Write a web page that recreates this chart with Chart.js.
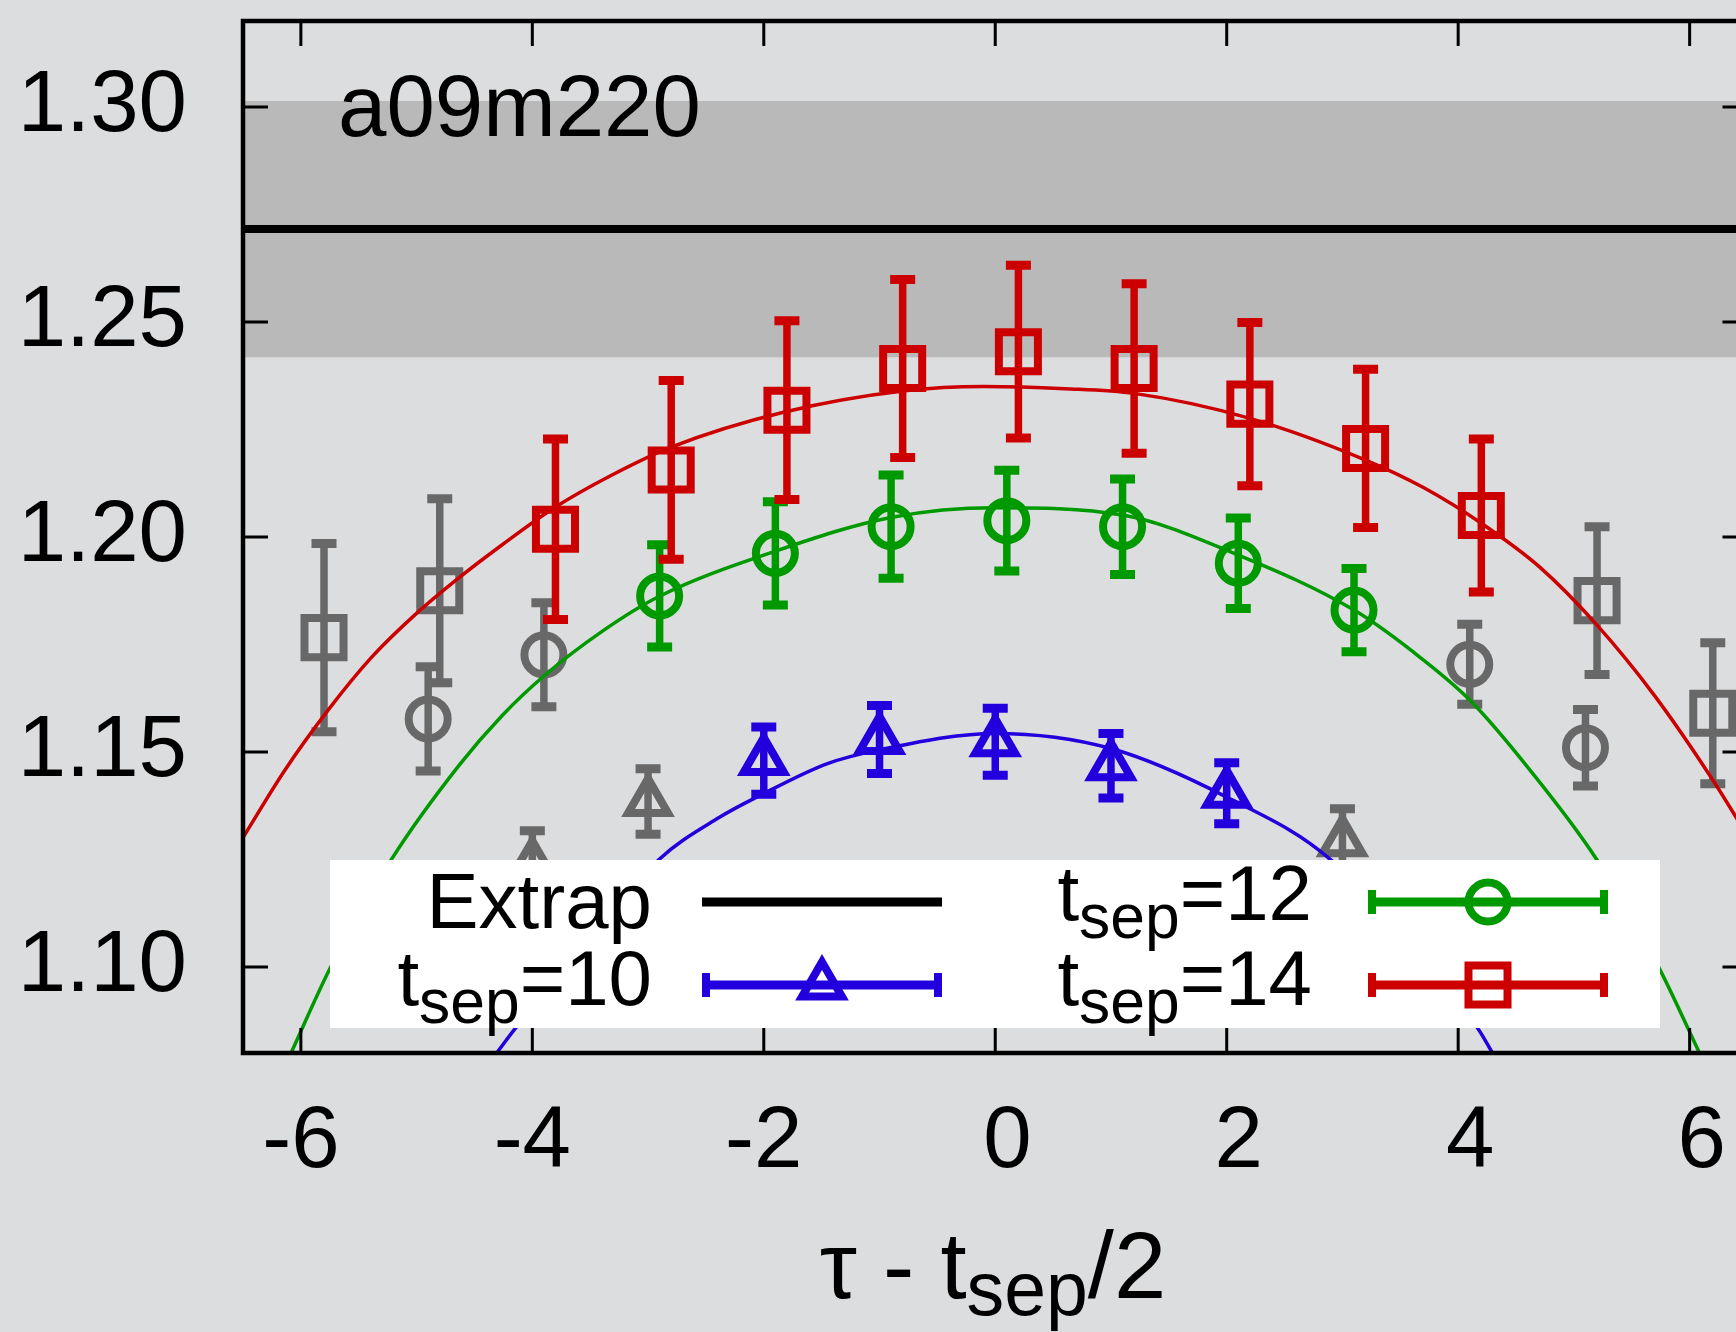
<!DOCTYPE html>
<html>
<head>
<meta charset="utf-8">
<script src="https://cdn.jsdelivr.net/npm/chart.js@4.4.1/dist/chart.umd.min.js"></script>
<style>
    html, body { margin: 0; padding: 0; background: #dcdddf; overflow: hidden; }
    #chart { display: block; }
</style>
</head>
<body>
<canvas id="chart" width="1760" height="1332" style="width:1760px;height:1332px"></canvas>
<script>
// ---- data ----
const xTicks = [-6, -4, -2, 0, 2, 4, 6];
const yTicks = [1.10, 1.15, 1.20, 1.25, 1.30];

// extrapolated value with its error band
const extrapValue = 1.2716;
const extrapError = 0.0298;

// t_sep = 10, points used in the fit
const ts10X = [-2, -1, 0, 1, 2];
const ts10Y = [1.1480, 1.1529, 1.1524, 1.1468, 1.1404];
const ts10Err = [0.0078, 0.0079, 0.0078, 0.0075, 0.0071];

// t_sep = 12, points used in the fit
const ts12X = [-2.9, -1.9, -0.9, 0.1, 1.1, 2.1, 3.1];
const ts12Y = [1.1863, 1.1962, 1.2024, 1.2038, 1.2024, 1.1939, 1.1830];
const ts12Err = [0.0119, 0.0120, 0.0120, 0.0117, 0.0111, 0.0105, 0.0097];

// t_sep = 14, points used in the fit
const ts14X = [-3.8, -2.8, -1.8, -0.8, 0.2, 1.2, 2.2, 3.2, 4.2];
const ts14Y = [1.2018, 1.2156, 1.2295, 1.2392, 1.2431, 1.2392, 1.2309, 1.2206, 1.2050];
const ts14Err = [0.0210, 0.0208, 0.0208, 0.0207, 0.0201, 0.0197, 0.0190, 0.0184, 0.0178];

// points left out of the fit (grey)
const ts10OutX = [-4, -3, 3];
const ts10OutY = [1.1240, 1.1385, 1.1291];
const ts10OutErr = [0.0077, 0.0076, 0.0077];

const ts12OutX = [-4.9, -3.9, 4.1, 5.1];
const ts12OutY = [1.1577, 1.1726, 1.1704, 1.1510];
const ts12OutErr = [0.0121, 0.0121, 0.0093, 0.0089];

const ts14OutX = [-5.8, -4.8, 5.2, 6.2];
const ts14OutY = [1.1766, 1.1875, 1.1852, 1.1590];
const ts14OutErr = [0.0219, 0.0214, 0.0172, 0.0164];

// fit curves
const fit10X = [-4.30, -4.15, -2.91, -2.39, -2.01, -1.45, -1.0, 0, 1.0, 2.0, 2.9, 4.17, 4.29];
const fit10Y = [1.0803, 1.0856, 1.1249, 1.1347, 1.1402, 1.1473, 1.1505, 1.1543, 1.1508, 1.1395, 1.1249, 1.0857, 1.0803];

const fit12X = [-6.08, -5.74, -5.22, -4.63, -4.26, -3.89, -3.40, -2.91, -1.90, -0.89, 0, 1.1, 2.1, 3.1, 3.6, 4.1, 4.6, 5.2, 5.73, 6.08];
const fit12Y = [1.0803, 1.1001, 1.1249, 1.1470, 1.1585, 1.1679, 1.1780, 1.1861, 1.1967, 1.2046, 1.2068, 1.2051, 1.1958, 1.1830, 1.1735, 1.1621, 1.1465, 1.1249, 1.1001, 1.0803];

const fit14X = [-6.5, -6.14, -5.76, -5.39, -5.01, -4.63, -4.26, -3.81, -3.32, -2.8, -1.83, -0.78, -0.1, 0.6, 1.2, 2.2, 3.2, 3.7, 4.2, 4.7, 5.2, 5.7, 6.2, 6.5];
const fit14Y = [1.1301, 1.1457, 1.1599, 1.1720, 1.1820, 1.1906, 1.1982, 1.2068, 1.2143, 1.2209, 1.2290, 1.2340, 1.2350, 1.2345, 1.2334, 1.2276, 1.2179, 1.2115, 1.2032, 1.1931, 1.1795, 1.1630, 1.1435, 1.1305];

// ---- styling ----
const FONT = "'Liberation Sans', Arial, Helvetica, sans-serif";
const RED = '#cc0000';
const GREEN = '#009900';
const BLUE = '#2200dd';
const GRAY = '#686868';
const BAND = '#b9b9b9';

const SQUARE_R = 27.6;
const CIRCLE_R = 19.5;
const TRIANGLE_R = 23;
const MARK_W = 8;

const pts = (xs, ys) => xs.map((x, i) => ({ x: x, y: ys[i] }));

function pointSet(xs, ys, errs, color, style, radius, order) {
    return {
        data: pts(xs, ys),
        err: errs,
        showLine: false,
        pointStyle: style,
        pointRadius: radius,
        pointHoverRadius: radius,
        pointBorderWidth: MARK_W,
        borderColor: color,
        pointBorderColor: color,
        pointBackgroundColor: 'rgba(0,0,0,0)',
        order: order
    };
}

function curve(xs, ys, color) {
    return {
        data: pts(xs, ys),
        showLine: true,
        borderColor: color,
        borderWidth: 3.5,
        pointRadius: 0,
        cubicInterpolationMode: 'monotone',
        fill: false,
        order: 0
    };
}

const bandHi = extrapValue + extrapError;
const bandLo = extrapValue - extrapError;

const datasets = [
    { data: pts([-6.5, 6.5], [bandHi, bandHi]), showLine: true, borderColor: 'rgba(0,0,0,0)', borderWidth: 0,
      pointRadius: 0, backgroundColor: BAND, fill: '+1', order: 20 },
    { data: pts([-6.5, 6.5], [bandLo, bandLo]), showLine: true, borderColor: 'rgba(0,0,0,0)', borderWidth: 0,
      pointRadius: 0, fill: false, order: 20 },
    { data: pts([-6.5, 6.5], [extrapValue, extrapValue]), showLine: true, borderColor: '#000', borderWidth: 8,
      pointRadius: 0, fill: false, order: 19 },
    pointSet(ts14OutX, ts14OutY, ts14OutErr, GRAY, 'rect', SQUARE_R, 10),
    pointSet(ts12OutX, ts12OutY, ts12OutErr, GRAY, 'circle', CIRCLE_R, 10),
    pointSet(ts10OutX, ts10OutY, ts10OutErr, GRAY, 'triangle', TRIANGLE_R, 10),
    pointSet(ts14X, ts14Y, ts14Err, RED, 'rect', SQUARE_R, 5),
    pointSet(ts12X, ts12Y, ts12Err, GREEN, 'circle', CIRCLE_R, 5),
    pointSet(ts10X, ts10Y, ts10Err, BLUE, 'triangle', TRIANGLE_R, 5),
    curve(fit14X, fit14Y, RED),
    curve(fit12X, fit12Y, GREEN),
    curve(fit10X, fit10Y, BLUE)
];

// vertical error bars, drawn just before each point set
const errorBars = {
    id: 'errorBars',
    beforeDatasetDraw(chart, args) {
        const ds = chart.data.datasets[args.index];
        if (!ds.err) return;
        const { ctx, chartArea: a, scales: { x, y } } = chart;
        ctx.save();
        ctx.beginPath();
        ctx.rect(a.left, a.top, a.right - a.left, a.bottom - a.top);
        ctx.clip();
        ctx.strokeStyle = ds.borderColor;
        ctx.lineCap = 'butt';
        ds.data.forEach((p, i) => {
            const px = x.getPixelForValue(p.x);
            const top = y.getPixelForValue(p.y + ds.err[i]);
            const bot = y.getPixelForValue(p.y - ds.err[i]);
            ctx.lineWidth = 7.5;
            ctx.beginPath();
            ctx.moveTo(px, top);
            ctx.lineTo(px, bot);
            ctx.stroke();
            ctx.lineWidth = 9;
            ctx.beginPath();
            ctx.moveTo(px - 12.5, top);
            ctx.lineTo(px + 12.5, top);
            ctx.moveTo(px - 12.5, bot);
            ctx.lineTo(px + 12.5, bot);
            ctx.stroke();
        });
        ctx.restore();
    }
};

function marker(ctx, style, x, y, color) {
    ctx.save();
    ctx.strokeStyle = color;
    ctx.lineWidth = MARK_W;
    ctx.beginPath();
    if (style === 'circle') {
        ctx.arc(x, y, CIRCLE_R, 0, Math.PI * 2);
    } else if (style === 'rect') {
        const h = SQUARE_R * Math.SQRT1_2;
        ctx.rect(x - h, y - h, 2 * h, 2 * h);
    } else {
        const r = TRIANGLE_R;
        ctx.moveTo(x, y - r);
        ctx.lineTo(x + r * Math.sqrt(3) / 2, y + r / 2);
        ctx.lineTo(x - r * Math.sqrt(3) / 2, y + r / 2);
        ctx.closePath();
    }
    ctx.stroke();
    ctx.restore();
}

// text with a "sep" style subscript: parts = [[text, isSub], ...]
function richText(ctx, parts, x, baseline, size, subDrop, align) {
    const sizes = parts.map(p => (p[1] ? size * 0.8 : size));
    const widths = parts.map((p, i) => {
        ctx.font = sizes[i] + 'px ' + FONT;
        return ctx.measureText(p[0]).width;
    });
    const total = widths.reduce((s, w) => s + w, 0);
    let cx = align === 'right' ? x - total : (align === 'center' ? x - total / 2 : x);
    parts.forEach((p, i) => {
        ctx.font = sizes[i] + 'px ' + FONT;
        ctx.fillText(p[0], cx, baseline + (p[1] ? subDrop : 0));
        cx += widths[i];
    });
}

const legendEntries = [
    { parts: [['Extrap', false]], col: 0, row: 0, color: '#000', style: null, base: 928 },
    { parts: [['t', false], ['sep', true], ['=10', false]], col: 0, row: 1, color: BLUE, style: 'triangle', base: 1005 },
    { parts: [['t', false], ['sep', true], ['=12', false]], col: 1, row: 0, color: GREEN, style: 'circle', base: 920 },
    { parts: [['t', false], ['sep', true], ['=14', false]], col: 1, row: 1, color: RED, style: 'rect', base: 1005 }
];

const decor = {
    id: 'decor',
    afterDraw(chart) {
        const { ctx, chartArea: a, scales: { x, y } } = chart;
        ctx.save();
        ctx.fillStyle = '#000';
        ctx.textBaseline = 'alphabetic';
        ctx.textAlign = 'left';

        // panel label
        ctx.font = '87px ' + FONT;
        ctx.fillText('a09m220', 338, 136);

        // ticks, all pointing inwards
        ctx.strokeStyle = '#000';
        ctx.lineWidth = 3;
        ctx.beginPath();
        xTicks.forEach(v => {
            const px = x.getPixelForValue(v);
            ctx.moveTo(px, a.top);
            ctx.lineTo(px, a.top + 25);
            ctx.moveTo(px, a.bottom);
            ctx.lineTo(px, a.bottom - 25);
        });
        yTicks.forEach(v => {
            const py = y.getPixelForValue(v);
            ctx.moveTo(a.left, py);
            ctx.lineTo(a.left + 25, py);
            ctx.moveTo(a.right, py);
            ctx.lineTo(a.right - 25, py);
        });
        ctx.stroke();

        // frame
        ctx.lineWidth = 4.5;
        ctx.strokeRect(a.left, a.top, a.right - a.left, a.bottom - a.top);

        // key box
        ctx.fillStyle = '#ffffff';
        ctx.fillRect(330, 860, 1330, 168);

        const textRight = [652, 1312];
        const sampleX0 = [702, 1368];
        const sampleX1 = [942, 1608];
        const sampleY = [902, 985];
        legendEntries.forEach(e => {
            ctx.fillStyle = '#000';
            richText(ctx, e.parts, textRight[e.col], e.base, 78, 18, 'right');
            const x0 = sampleX0[e.col], x1 = sampleX1[e.col], ly = sampleY[e.row];
            ctx.strokeStyle = e.color;
            ctx.lineWidth = 9;
            ctx.beginPath();
            ctx.moveTo(x0, ly);
            ctx.lineTo(x1, ly);
            ctx.stroke();
            if (e.style) {
                ctx.lineWidth = 8;
                ctx.beginPath();
                ctx.moveTo(x0 + 4, ly - 12);
                ctx.lineTo(x0 + 4, ly + 12);
                ctx.moveTo(x1 - 4, ly - 12);
                ctx.lineTo(x1 - 4, ly + 12);
                ctx.stroke();
                marker(ctx, e.style, (x0 + x1) / 2, ly, e.color);
            }
        });

        // x axis title
        ctx.fillStyle = '#000';
        richText(ctx, [['\u03c4 - t', false], ['sep', true], ['/2', false]], 993, 1298, 94, 17, 'center');
        ctx.restore();
    }
};

// drop the label overhang padding so the plot box sits where the reference has it
function noPad(s) {
    s.paddingTop = 0;
    s.paddingBottom = 0;
    s.paddingLeft = 0;
    s.paddingRight = 0;
}

const chart = new Chart(document.getElementById('chart'), {
    type: 'scatter',
    data: { datasets: datasets },
    options: {
        responsive: false,
        animation: false,
        devicePixelRatio: 1,
        events: [],
        layout: { autoPadding: false, padding: { top: 21, right: 12.5, left: 0, bottom: 0 } },
        plugins: {
            legend: { display: false },
            tooltip: { enabled: false }
        },
        scales: {
            x: {
                type: 'linear',
                min: -6.5,
                max: 6.5,
                grid: { display: false, drawTicks: false },
                border: { display: false },
                afterBuildTicks: s => { s.ticks = xTicks.map(v => ({ value: v })); },
                afterFit: s => { s.height = 279; noPad(s); },
                ticks: {
                    padding: 38,
                    autoSkip: false,
                    maxRotation: 0,
                    color: '#000',
                    font: { family: FONT, size: 87 },
                    callback: v => (v >= 0 ? ' ' : '') + v
                }
            },
            y: {
                type: 'linear',
                min: 1.08,
                max: 1.32,
                grid: { display: false, drawTicks: false },
                border: { display: false },
                afterBuildTicks: s => { s.ticks = yTicks.map(v => ({ value: v })); },
                afterFit: s => { s.width = 243; noPad(s); },
                ticks: {
                    padding: 56,
                    color: '#000',
                    font: { family: FONT, size: 87 },
                    callback: v => v.toFixed(2)
                }
            }
        }
    },
    plugins: [errorBars, decor]
});
</script>
</body>
</html>
